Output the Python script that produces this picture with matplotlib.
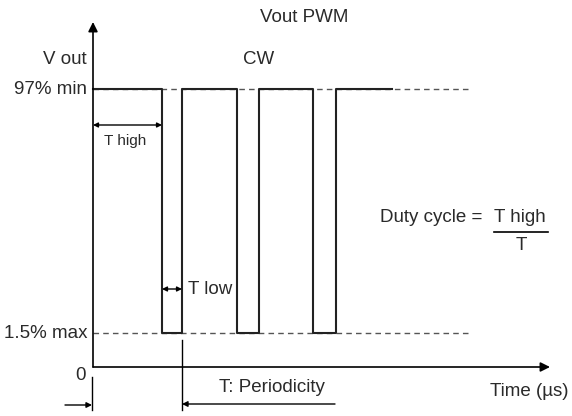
import matplotlib
matplotlib.use("Agg")
import matplotlib.pyplot as plt

plt.rcParams['font.family'] = ['Liberation Sans', 'DejaVu Sans']

# signal (schematic units: time along x, level along y)
t_edges = [0, 6.9, 8.9, 14.4, 16.6, 22.0, 24.3, 29.9]
v_high = 27.8
v_low = 3.4
signal = [v_high, v_low, v_high, v_low, v_high, v_low, v_high, v_high]
t_end = 37.5
period = t_edges[2]
t_high = t_edges[1]

level_labels = ["97% min", "1.5% max", "0"]

fig = plt.figure(figsize=(5.72, 4.16), dpi=100)
ax = fig.add_axes([0, 0, 1, 1])
ax.set_xlim(-9.3, 47.9)
ax.set_ylim(-4.9, 36.7)
ax.axis('off')

fs = 13.5
tc = '#2a2a2a'

# reference levels
for v in (v_high, v_low):
    ax.plot([0, t_end], [v, v], color='#555555', lw=1, linestyle=(0, (4, 3)))

# the PWM signal
ax.step(t_edges, signal, where='post', color='#222222', lw=1.5)

# axes with arrows
arr = dict(arrowstyle='-|>', color='black', lw=1.2, mutation_scale=14, shrinkA=0, shrinkB=0)
ax.annotate('', xy=(0, 34.5), xytext=(0, 0), arrowprops=arr)
ax.annotate('', xy=(45.7, 0), xytext=(0, 0), arrowprops=arr)

# T high / T low dimension arrows
dim = dict(arrowstyle='<|-|>', color='black', lw=1, mutation_scale=7, shrinkA=0, shrinkB=0)
ax.annotate('', xy=(t_high, 24.2), xytext=(0, 24.2), arrowprops=dim)
ax.annotate('', xy=(period, 7.8), xytext=(t_high, 7.8), arrowprops=dim)

# period markers
ax.plot([period, period], [2.7, -4.3], color='black', lw=1)
ax.plot([-0.1, -0.1], [-1.0, -4.3], color='black', lw=1)
pa = dict(arrowstyle='-|>', color='black', lw=1, mutation_scale=8, shrinkA=0, shrinkB=0)
ax.annotate('', xy=(-0.1, -3.8), xytext=(-2.8, -3.8), arrowprops=pa)
ax.annotate('', xy=(period, -3.7), xytext=(24.2, -3.7), arrowprops=pa)

# labels
ax.text(21.1, 34.9, "Vout PWM", ha='center', va='center', fontsize=fs, color=tc)
ax.text(-0.6, 30.7, "V out", ha='right', va='center', fontsize=fs, color=tc)
ax.text(16.6, 30.7, "CW", ha='center', va='center', fontsize=fs, color=tc)
ax.text(-0.6, v_high, level_labels[0], ha='right', va='center', fontsize=fs, color=tc)
ax.text(-0.6, v_low, level_labels[1], ha='right', va='center', fontsize=fs, color=tc)
ax.text(-1.3, -0.8, level_labels[2], ha='center', va='center', fontsize=fs, color=tc)
ax.text(3.2, 22.6, "T high", ha='center', va='center', fontsize=11, color=tc)
ax.text(9.5, 7.8, "T low", ha='left', va='center', fontsize=fs, color=tc)
ax.text(39.5, 14.9, "Duty cycle = ", ha='right', va='center', fontsize=fs, color=tc)
ax.text(40.1, 14.9, "T high", ha='left', va='center', fontsize=fs, color=tc)
ax.plot([40.1, 45.5], [13.5, 13.5], color='black', lw=1.2)
ax.text(42.8, 12.2, "T", ha='center', va='center', fontsize=fs, color=tc)
ax.text(39.7, -2.4, "Time (µs)", ha='left', va='center', fontsize=fs, color=tc)
ax.text(17.9, -2.1, "T: Periodicity", ha='center', va='center', fontsize=fs, color=tc)

fig.savefig("out.png", dpi=100, facecolor='white')
